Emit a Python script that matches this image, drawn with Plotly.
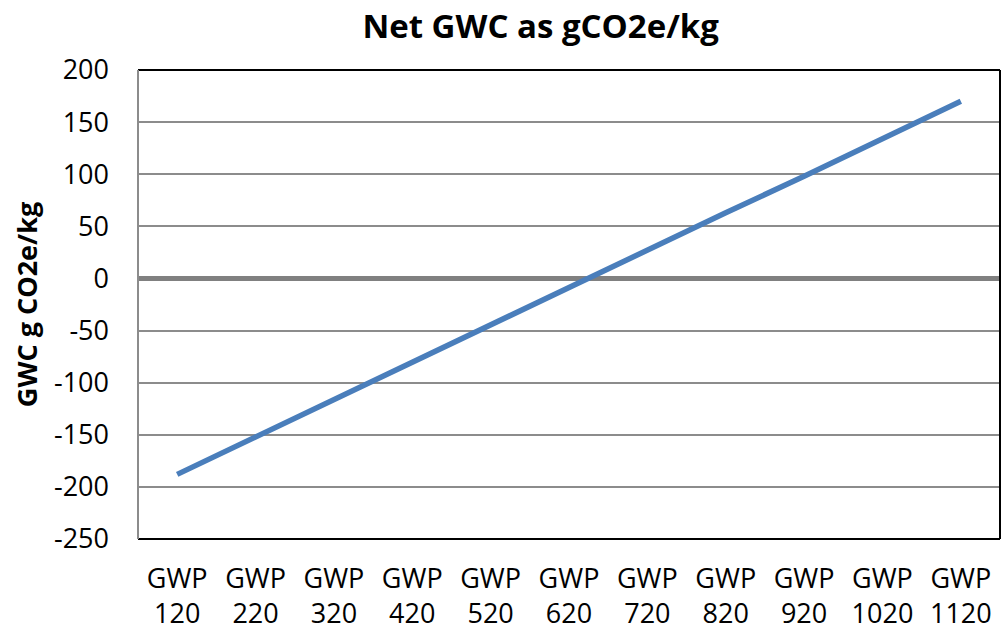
import plotly.graph_objects as go

categories = ["GWP<br>120", "GWP<br>220", "GWP<br>320", "GWP<br>420", "GWP<br>520", "GWP<br>620",
              "GWP<br>720", "GWP<br>820", "GWP<br>920", "GWP<br>1020", "GWP<br>1120"]
gwc_values = [-188, -152, -116, -80, -45, -9, 27, 63, 98, 134, 170]
y_ticks = [-250, -200, -150, -100, -50, 0, 50, 100, 150, 200]
y_tick_text = ["-250", "-200", "-150", "-100", "-50", "0", "50", "100", "150", "200"]

FONT = "Open Sans, Liberation Sans, sans-serif"

fig = go.Figure()
fig.add_trace(go.Scatter(
    x=categories, y=gwc_values, mode="lines",
    line=dict(color="#4A7EBB", width=5.5),
    showlegend=False,
))

fig.update_layout(
    width=1005, height=634,
    margin=dict(l=138, r=5, t=70, b=95),
    paper_bgcolor="white", plot_bgcolor="white",
    title=dict(text="<b>Net GWC as gCO2e/kg</b>", x=0.538, xanchor="center",
               y=0.958, yanchor="middle",
               font=dict(family=FONT, size=33, color="black")),
    font=dict(family=FONT, color="black"),
)
fig.update_xaxes(
    type="category", range=[-0.5, 10.5],
    showgrid=False, showline=False, ticks="",
    tickfont=dict(size=27, color="black"),
    ticklabelstandoff=21,
    automargin=False,
)
fig.update_yaxes(
    range=[-250, 200], tickvals=y_ticks, ticktext=y_tick_text,
    showgrid=True, gridcolor="#8C8C8C", gridwidth=1.5,
    zeroline=True, zerolinecolor="#808080", zerolinewidth=5,
    showline=False, ticks="",
    tickfont=dict(size=27, color="black"),
    ticklabelstandoff=28,
    automargin=False,
    title=dict(text="<b>GWC g CO2e/kg</b>", font=dict(size=27, color="black"), standoff=8),
)
# plot-area border: black top/right/bottom, gray left
fig.add_shape(type="line", xref="paper", yref="paper", x0=0, x1=1, y0=1, y1=1,
              line=dict(color="black", width=2))
fig.add_shape(type="line", xref="paper", yref="paper", x0=1, x1=1, y0=0, y1=1,
              line=dict(color="black", width=2))
fig.add_shape(type="line", xref="paper", yref="paper", x0=0, x1=1, y0=0, y1=0,
              line=dict(color="black", width=2))
fig.add_shape(type="line", xref="paper", yref="paper", x0=0, x1=0, y0=0, y1=1,
              line=dict(color="#8C8C8C", width=2))

fig.write_html(
    "out.html",
    config={"responsive": False, "displayModeBar": False},
    post_script="document.body.style.margin='0';document.body.style.overflow='hidden';",
)
